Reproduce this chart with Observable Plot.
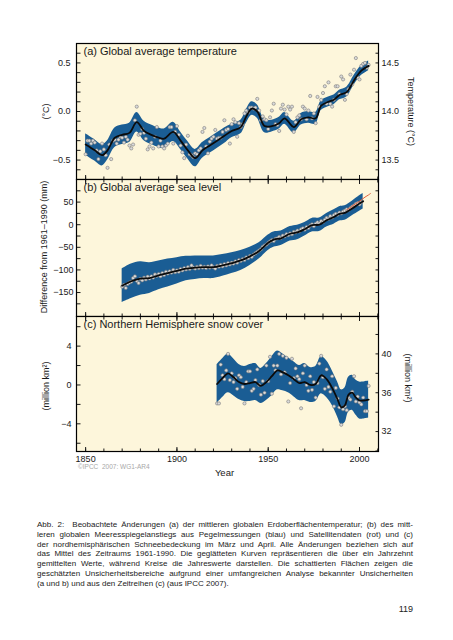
<!DOCTYPE html>
<html><head><meta charset="utf-8">
<script src="https://cdn.jsdelivr.net/npm/d3@7"></script>
<script src="https://cdn.jsdelivr.net/npm/@observablehq/plot@0.6"></script>
<style>
html,body{margin:0;padding:0;background:#fff;}
#page{position:relative;width:453px;height:640px;overflow:hidden;font-family:"Liberation Sans",Arial,Helvetica,sans-serif;color:#1a1a1a;}
#page svg{position:absolute;left:0;overflow:visible;}
.cap{position:absolute;left:37px;width:376px;font-size:8px;line-height:10px;white-space:pre;color:#222;}
.pnum{position:absolute;left:380px;width:33px;text-align:right;top:604px;font-size:9px;color:#222;}
</style></head><body><div id="page"></div>
<script>
// ---------- DATA ----------
// (a) Global average temperature, annual anomalies (°C), years 1850..2005
const tempFirstYear = 1850;
const tempAnnual = [
 -0.44,-0.30,-0.30,-0.33,-0.30,-0.32,-0.40,-0.49,-0.41,-0.33,
 -0.39,-0.45,-0.58,-0.34,-0.49,-0.30,-0.29,-0.33,-0.29,-0.26,
 -0.27,-0.32,-0.26,-0.29,-0.35,-0.38,-0.34,-0.09,0.05,-0.24,
 -0.23,-0.18,-0.22,-0.28,-0.39,-0.36,-0.32,-0.38,-0.26,-0.16,
 -0.36,-0.30,-0.36,-0.38,-0.35,-0.33,-0.16,-0.16,-0.33,-0.21,
 -0.15,-0.24,-0.35,-0.42,-0.48,-0.34,-0.25,-0.44,-0.45,-0.47,
 -0.43,-0.44,-0.40,-0.38,-0.21,-0.17,-0.36,-0.43,-0.31,-0.28,
 -0.26,-0.19,-0.28,-0.27,-0.27,-0.21,-0.09,-0.19,-0.18,-0.33,
 -0.13,-0.08,-0.11,-0.26,-0.12,-0.16,-0.13,-0.02,0.01,-0.01,
 0.04,0.04,0.03,0.04,0.13,0.01,-0.09,-0.05,-0.08,-0.09,
 -0.18,-0.06,0.01,0.08,-0.13,-0.14,-0.20,0.03,0.07,0.02,
 -0.03,0.05,0.02,0.05,-0.21,-0.11,-0.06,-0.04,-0.08,0.05,
 0.03,-0.08,0.01,0.16,-0.07,-0.02,-0.12,0.15,0.05,0.12,
 0.19,0.26,0.08,0.30,0.08,0.05,0.12,0.26,0.26,0.18,
 0.36,0.33,0.12,0.18,0.23,0.38,0.28,0.43,0.55,0.35,
 0.33,0.47,0.49,0.50,0.45,0.48
];
const tempSmoothYears = [1850,1855,1859,1862,1866,1870,1874,1878,1882,1886,1890,1893,1898,1902,1906,1910,1914,1918,1922,1926,1930,1935,1938,1941,1944,1948,1952,1956,1959,1964,1968,1972,1976,1979,1983,1986,1989,1993,1997,2001,2005];
const tempSmooth = [-0.34,-0.40,-0.45,-0.40,-0.27,-0.24,-0.22,-0.11,-0.20,-0.24,-0.27,-0.28,-0.21,-0.30,-0.40,-0.48,-0.40,-0.35,-0.30,-0.25,-0.20,-0.16,-0.05,0.03,0.00,-0.15,-0.15,-0.12,-0.07,-0.16,-0.08,-0.06,-0.07,0.06,0.10,0.12,0.17,0.20,0.32,0.42,0.47];
const tempUnc = [0.11,0.11,0.11,0.10,0.10,0.10,0.10,0.10,0.10,0.10,0.10,0.10,0.10,0.09,0.09,0.09,0.08,0.08,0.08,0.08,0.07,0.07,0.07,0.07,0.07,0.07,0.06,0.06,0.06,0.06,0.06,0.06,0.06,0.05,0.05,0.05,0.05,0.05,0.05,0.05,0.05];
const tempTicks = [-0.5, 0.0, 0.5];
const tempRightTicks = [13.5, 14.0, 14.5];
const tempOffset = 14.0;
const tempMinor = [-0.6,-0.5,-0.4,-0.3,-0.2,-0.1,0,0.1,0.2,0.3,0.4,0.5,0.6];

// (b) Global average sea level (mm), annual values 1870..2001
const seaFirstYear = 1870;
const seaAnnual = [
 -137,-133,-140,-131,-128,-126,-118,-114,-124,-129,
 -120,-123,-117,-121,-115,-119,-114,-117,-110,-113,
 -109,-114,-107,-111,-104,-108,-103,-106,-100,-105,
 -101,-104,-98,-101,-96,-99,-94,-98,-90,-95,
 -97,-93,-96,-91,-95,-93,-96,-92,-95,-90,
 -94,-97,-91,-93,-89,-92,-87,-90,-85,-88,
 -84,-86,-81,-84,-78,-80,-76,-78,-72,-74,
 -69,-71,-66,-63,-60,-57,-54,-49,-46,-44,
 -40,-37,-34,-36,-31,-30,-27,-29,-24,-26,
 -21,-23,-19,-21,-16,-17,-13,-15,-10,-8,
 -11,-5,-7,-2,1,-3,2,5,3,8,
 6,11,15,13,19,16,21,24,22,27,
 25,29,31,34,33,37,40,42,46,48,
 45,50
];
const seaSmoothYears = [1870,1875,1880,1885,1890,1895,1900,1905,1910,1915,1920,1925,1930,1935,1940,1945,1950,1953,1957,1962,1966,1970,1974,1978,1982,1986,1989,1992,1996,2000,2002];
const seaSmooth = [-135,-125,-119,-118,-112,-107,-102,-97,-95,-94,-94,-90,-85,-79,-70,-58,-40,-33,-30,-20,-17,-10,-1,0,10,17,24,26,36,47,52];
const seaUnc = [37,38,37,34,32,31,29,27,26,25,25,24,23,22,20,18,17,17,16,16,16,15,15,15,15,16,16,16,16,17,17];
const seaSatYears = [1993,1995,1997,1999,2001,2003,2005,2006];
const seaSat = [33,38,44,49,55,61,66,69];
const seaTicks = [-150,-100,-50,0,50];
const seaMinor = [-175,-150,-125,-100,-75,-50,-25,0,25,50,75];

// (c) Northern Hemisphere snow cover (million km²), annual values 1922..2005
const snowFirstYear = 1922;
const snowAnnual = [
 -1.9,-1.9,2.1,1.0,0.6,1.5,3.2,0.5,
 1.2,0.3,0.7,-0.4,1.0,0.8,-0.2,-1.9,0.3,1.4,
 1.4,-0.6,-0.4,0.5,1.6,0.0,-1.0,0.4,-0.8,2.0,
 0.4,2.9,-0.9,2.0,1.5,2.0,3.2,1.1,3.0,1.3,
 2.8,-1.7,0.2,2.7,0.7,1.7,0.9,0.6,-2.4,1.2,
 2.0,0.0,-0.6,0.9,-0.5,0.3,-1.3,0.2,2.2,3.0,
 0.8,-0.4,1.6,-0.2,-0.7,0.9,-2.2,-0.3,-1.4,-2.3,
 -4.1,-2.5,-2.2,-2.6,-1.3,-1.5,-0.7,0.9,-1.7,-1.2,
 -1.8,-2.0,-1.3,-2.7,-2.7,-0.1
];
const snowSmoothYears = [1922,1925,1928,1931,1934,1937,1940,1943,1946,1949,1952,1955,1958,1961,1964,1967,1970,1973,1976,1979,1982,1985,1988,1990,1992,1994,1996,1998,2000,2002,2005];
const snowSmooth = [0.1,0.7,1.2,0.8,0.3,0.1,0.2,0.3,-0.1,0.3,0.9,1.5,1.3,1.0,0.6,0.2,0.3,0.0,0.1,1.0,0.6,-0.3,-1.5,-2.3,-2.1,-1.0,-0.8,-1.3,-1.6,-1.6,-1.5];
const snowUnc = [2.0,2.0,2.0,1.9,1.8,1.8,1.9,1.9,1.8,1.9,2.0,2.0,1.9,1.8,1.8,1.8,1.9,1.8,1.8,1.9,1.9,1.8,1.8,1.8,1.8,1.8,1.8,1.8,1.9,1.9,1.9];
const snowTicks = [-4, 0, 4];
const snowRightTicks = [32, 36, 40];
const snowOffset = 36.8;
const snowMinor = [-6,-4,-2,0,2,4,6];
const snowRightMinor = [30,32,34,36,38,40,42];

// x axis
const yearLabels = [1850, 1900, 1950, 2000];
const yearMinor = [1850,1860,1870,1880,1890,1900,1910,1920,1930,1940,1950,1960,1970,1980,1990,2000,2010];

const titles = ["(a) Global average temperature", "(b) Global average sea level", "(c) Northern Hemisphere snow cover"];
const captionLines = [
 "Abb. 2:  Beobachtete Änderungen (a) der mittleren globalen Erdoberflächentemperatur; (b) des mitt-",
 "leren globalen Meeresspiegelanstiegs aus Pegelmessungen (blau) und Satellitendaten (rot) und (c)",
 "der nordhemisphärischen Schneebedeckung im März und April. Alle Änderungen beziehen sich auf",
 "das Mittel des Zeitraums 1961-1990. Die geglätteten Kurven repräsentieren die über ein Jahrzehnt",
 "gemittelten Werte, während Kreise die Jahreswerte darstellen. Die schattierten Flächen zeigen die",
 "geschätzten Unsicherheitsbereiche aufgrund einer umfangreichen Analyse bekannter Unsicherheiten",
 "(a und b) und aus den Zeitreihen (c) (aus IPCC 2007)."
];

// ---------- BUILD ----------
const FONT = '"Liberation Sans", Arial, Helvetica, sans-serif';
const CREAM = "#fdf6db";
const BAND = "#1a5d94";
const DOT_FILL = "#dadada";
const DOT_STROKE = "#7a7a7a";
const W = 453, ML = 76, MR = 75;
const X_DOMAIN = [1845, 2010.4];
const page = document.getElementById("page");

const annual = (first, vals) => vals.map((value, i) => ({year: first + i, value}));
const smooth = (years, vals, unc) => years.map((year, i) => ({year, value: vals[i], lo: vals[i] - unc[i], hi: vals[i] + unc[i]}));

const tempPts = annual(tempFirstYear, tempAnnual);
const tempSm = smooth(tempSmoothYears, tempSmooth, tempUnc);
const seaPts = annual(seaFirstYear, seaAnnual);
const seaSm = smooth(seaSmoothYears, seaSmooth, seaUnc);
const seaSatT = seaSatYears.map((year, i) => ({year, value: seaSat[i]}));
const snowPts = annual(snowFirstYear, snowAnnual);
const snowSm = smooth(snowSmoothYears, snowSmooth, snowUnc);

const blank = () => "";
function xTickMarks(anchors) {
  const out = [];
  for (const anchor of anchors) {
    out.push(Plot.axisX({anchor, ticks: yearMinor, tickSize: -2.5, tickFormat: blank, label: null}));
    out.push(Plot.axisX({anchor, ticks: yearLabels, tickSize: -4, tickFormat: blank, label: null}));
  }
  return out;
}
function dataMarks(sm, pts) {
  return [
    Plot.areaY(sm, {x: "year", y1: "lo", y2: "hi", fill: BAND, curve: "catmull-rom"}),
    Plot.dot(pts, {x: "year", y: "value", r: 1.6, fill: DOT_FILL, stroke: DOT_STROKE, strokeWidth: 0.6}),
    Plot.line(sm, {x: "year", y: "value", stroke: "#0b0b0b", strokeWidth: 1.8, curve: "catmull-rom"})
  ];
}
function titleMark(t) {
  return Plot.text([t], {text: d => d, frameAnchor: "top-left", dx: 7, dy: 4, textAnchor: "start", lineAnchor: "top", fontSize: 11, fill: "#1a1a1a"});
}
function sideLabel(t, side, dx, dy = 0) {
  return Plot.text([t], {text: d => d, frameAnchor: side, dx, dy, rotate: side === "left" ? -90 : 90, textAnchor: "middle", lineAnchor: "middle", fontSize: 9});
}
function panel({top, height, mb, yDomain, marks}) {
  const svg = Plot.plot({
    width: W, height, marginLeft: ML, marginRight: MR, marginTop: 10, marginBottom: mb,
    x: {domain: X_DOMAIN, label: null},
    y: {domain: yDomain, label: null},
    style: {fontFamily: FONT, fontSize: "9px", color: "#1a1a1a", background: "transparent", overflow: "visible"},
    marks
  });
  svg.style.top = top + "px";
  page.append(svg);
}

// (a)
panel({top: 33, height: 156, mb: 10, yDomain: [-0.7, 0.7], marks: [
  Plot.frame({fill: CREAM}),
  ...dataMarks(tempSm, tempPts),
  titleMark(titles[0]),
  Plot.axisY({anchor: "left", ticks: tempTicks, tickSize: 0, tickPadding: 6, tickFormat: d3.format(".1f"), label: null}),
  Plot.axisY({anchor: "left", ticks: tempMinor, tickSize: -4.5, tickFormat: blank, label: null}),
  Plot.axisY({anchor: "right", ticks: tempRightTicks.map(t => t - tempOffset), tickSize: 0, tickPadding: 3, tickFormat: d => d3.format(".1f")(d + tempOffset), label: null}),
  Plot.axisY({anchor: "right", ticks: tempMinor, tickSize: -3.5, tickFormat: blank, label: null}),
  ...xTickMarks(["bottom"]),
  sideLabel("(°C)", "left", -30),
  sideLabel("Temperature (°C)", "right", 32),
  Plot.frame({stroke: "#000", strokeWidth: 1.2})
]});

// (b)
panel({top: 169, height: 157, mb: 10, yDomain: [-203, 100], marks: [
  Plot.frame({fill: CREAM}),
  ...dataMarks(seaSm, seaPts),
  Plot.line(seaSatT, {x: "year", y: "value", stroke: "#e2603c", strokeWidth: 1, curve: "catmull-rom"}),
  titleMark(titles[1]),
  Plot.axisY({anchor: "left", ticks: seaTicks, tickSize: 0, tickPadding: 3, tickFormat: d3.format("d"), label: null}),
  Plot.axisY({anchor: "left", ticks: seaMinor, tickSize: -4.5, tickFormat: blank, label: null}),
  Plot.axisY({anchor: "right", ticks: seaMinor, tickSize: -3.5, tickFormat: blank, label: null}),
  ...xTickMarks(["top", "bottom"]),
  sideLabel("Difference from 1961–1990 (mm)", "left", -32, -1),
  Plot.frame({stroke: "#000", strokeWidth: 1.2})
]});

// (c)
panel({top: 306, height: 185, mb: 40, yDomain: [-6.85, 7.05], marks: [
  Plot.frame({fill: CREAM}),
  ...dataMarks(snowSm, snowPts),
  titleMark(titles[2]),
  Plot.axisY({anchor: "left", ticks: snowTicks, tickSize: 0, tickPadding: 5, tickFormat: d3.format("d"), label: null}),
  Plot.axisY({anchor: "left", ticks: snowMinor, tickSize: -4.5, tickFormat: blank, label: null}),
  Plot.axisY({anchor: "right", ticks: snowRightTicks.map(t => t - snowOffset), tickSize: 0, tickPadding: 3, tickFormat: d => d3.format("d")(Math.round(d + snowOffset)), label: null}),
  Plot.axisY({anchor: "right", ticks: snowRightMinor.map(t => t - snowOffset), tickSize: -3.5, tickFormat: blank, label: null}),
  ...xTickMarks(["top", "bottom"]),
  Plot.axisX({anchor: "bottom", ticks: yearLabels, tickSize: 0, tickPadding: 4, tickFormat: d3.format("d"), label: null}),
  sideLabel("(million km²)", "left", -30, 2),
  sideLabel("(million km²)", "right", 29, -6),
  Plot.text(["Year"], {text: d => d, frameAnchor: "bottom", dx: -3, dy: 24, fontSize: 9.5}),
  Plot.text(["©IPCC  2007: WG1-AR4"], {text: d => d, frameAnchor: "bottom-left", dx: 1.5, dy: 17, textAnchor: "start", fontSize: 6.5, fill: "#a8a8a8"}),
  Plot.frame({stroke: "#000", strokeWidth: 1.2})
]});

// caption
captionLines.forEach((t, i) => {
  const d = document.createElement("div");
  d.className = "cap";
  d.style.top = (520 + i * 9.75) + "px";
  const s = document.createElement("span");
  s.textContent = t;
  d.append(s);
  page.append(d);
  if (i < captionLines.length - 1) {
    const w = s.getBoundingClientRect().width;
    const spaces = (t.match(/ /g) || []).length;
    if (spaces) s.style.wordSpacing = ((376 - w) / spaces) + "px";
  }
});
const pn = document.createElement("div");
pn.className = "pnum";
pn.textContent = "119";
page.append(pn);
</script></body></html>
